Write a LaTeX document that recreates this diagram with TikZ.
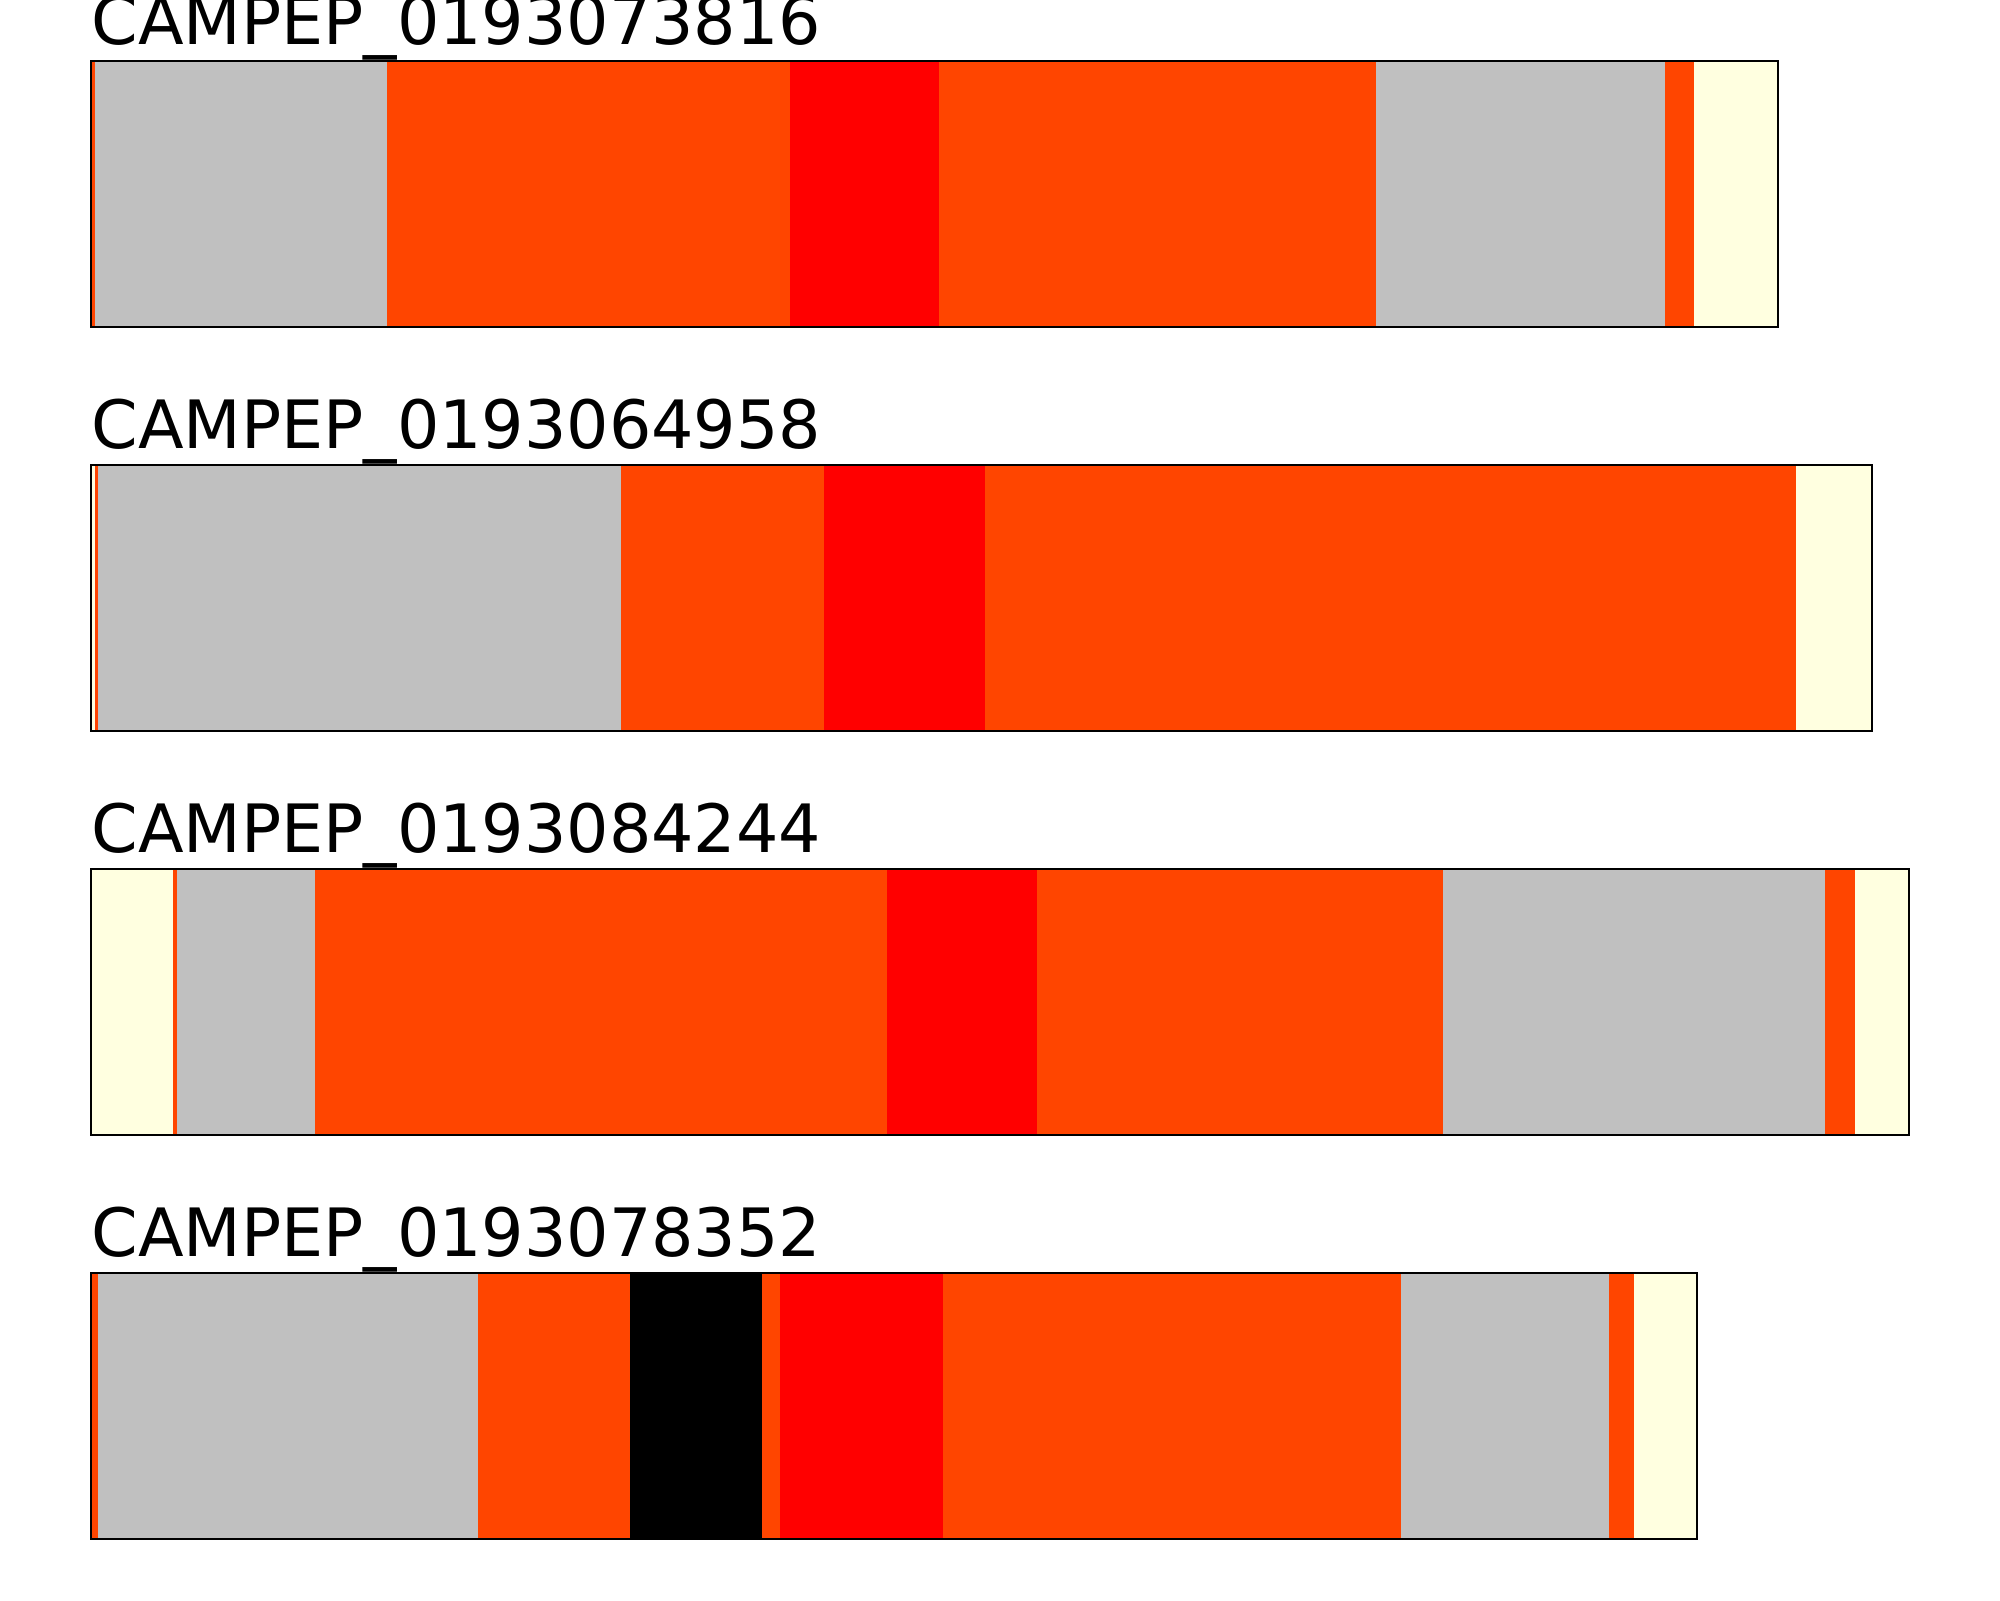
\documentclass[tikz,border=0pt]{standalone}
\usepackage{fontspec}
\setmainfont{DejaVu Sans}
\definecolor{SegOrange}{HTML}{FF4500}
\definecolor{SegRed}{HTML}{FF0000}
\definecolor{SegGray}{HTML}{C0C0C0}
\definecolor{SegYellow}{HTML}{FFFFE0}
\tikzset{seqlabel/.style={anchor=base west,inner sep=0pt,font=\fontsize{24}{28}\selectfont},
  frame/.style={draw=black,line width=0.8pt}}
\begin{document}
\begin{tikzpicture}[x=0.36pt,y=-0.36pt]
  \useasboundingbox (0,0) rectangle (2000,1600);
  % CAMPEP_0193073816
  \foreach \a/\b/\c in {91/95/SegOrange,95/386.5/SegGray,386.5/789.5/SegOrange,789.5/939/SegRed,939/1376/SegOrange,1376/1665/SegGray,1665/1694/SegOrange,1694/1778/SegYellow}
    \fill[\c] (\a,61) rectangle (\b,327);
  \draw[frame] (91,61) rectangle (1778,327);
  \node[seqlabel] (t1) at (91,44) {CAMPEP\_0193073816};
  % CAMPEP_0193064958
  \foreach \a/\b/\c in {91/95/SegYellow,95/98/SegOrange,98/621/SegGray,621/824/SegOrange,824/985/SegRed,985/1796/SegOrange,1796/1872/SegYellow}
    \fill[\c] (\a,465) rectangle (\b,731);
  \draw[frame] (91,465) rectangle (1872,731);
  \node[seqlabel] (t2) at (91,448) {CAMPEP\_0193064958};
  % CAMPEP_0193084244
  \foreach \a/\b/\c in {91/173/SegYellow,173/177/SegOrange,177/315/SegGray,315/886.5/SegOrange,886.5/1037/SegRed,1037/1442.6/SegOrange,1442.6/1825/SegGray,1825/1855/SegOrange,1855/1909/SegYellow}
    \fill[\c] (\a,869) rectangle (\b,1135);
  \draw[frame] (91,869) rectangle (1909,1135);
  \node[seqlabel] (t3) at (91,852) {CAMPEP\_0193084244};
  % CAMPEP_0193078352
  \foreach \a/\b/\c in {91/98/SegOrange,98/478/SegGray,478/630/SegOrange,630/762/black,762/780/SegOrange,780/942.6/SegRed,942.6/1400.5/SegOrange,1400.5/1609/SegGray,1609/1634/SegOrange,1634/1697/SegYellow}
    \fill[\c] (\a,1273) rectangle (\b,1539);
  \draw[frame] (91,1273) rectangle (1697,1539);
  \node[seqlabel] (t4) at (91,1256) {CAMPEP\_0193078352};
\end{tikzpicture}
\end{document}
